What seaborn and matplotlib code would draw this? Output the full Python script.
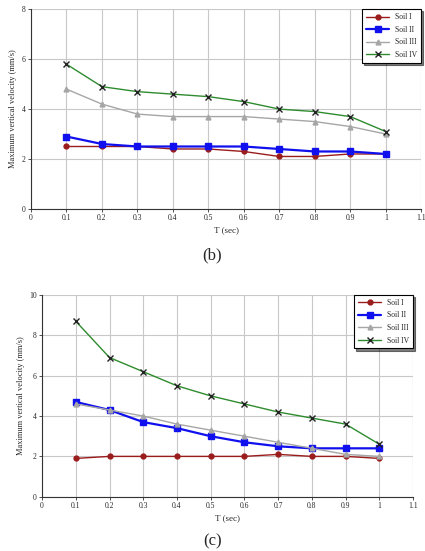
import matplotlib
matplotlib.use("Agg")
import matplotlib.pyplot as plt
import seaborn as sns
import pandas as pd

T = [0.1, 0.2, 0.3, 0.4, 0.5, 0.6, 0.7, 0.8, 0.9, 1.0]
series_names = ["Soil I", "Soil II", "Soil III", "Soil IV"]

b_soil1 = [2.5, 2.5, 2.5, 2.4, 2.4, 2.3, 2.1, 2.1, 2.2, 2.2]
b_soil2 = [2.9, 2.6, 2.5, 2.5, 2.5, 2.5, 2.4, 2.3, 2.3, 2.2]
b_soil3 = [4.8, 4.2, 3.8, 3.7, 3.7, 3.7, 3.6, 3.5, 3.3, 3.0]
b_soil4 = [5.8, 4.9, 4.7, 4.6, 4.5, 4.3, 4.0, 3.9, 3.7, 3.1]

c_soil1 = [1.9, 2.0, 2.0, 2.0, 2.0, 2.0, 2.1, 2.0, 2.0, 1.9]
c_soil2 = [4.7, 4.3, 3.7, 3.4, 3.0, 2.7, 2.5, 2.4, 2.4, 2.4]
c_soil3 = [4.6, 4.3, 4.0, 3.6, 3.3, 3.0, 2.7, 2.4, 2.1, 2.0]
c_soil4 = [8.7, 6.9, 6.2, 5.5, 5.0, 4.6, 4.2, 3.9, 3.6, 2.6]

x_ticks = [0, 0.1, 0.2, 0.3, 0.4, 0.5, 0.6, 0.7, 0.8, 0.9, 1, 1.1]
x_ticklabels = ["0", "0.1", "0.2", "0.3", "0.4", "0.5", "0.6", "0.7", "0.8", "0.9", "1", "1.1"]

colors = ["#9b1c1c", "#1010ee", "#a6a6a6", "#2e8b2e"]
markers = ["o", "s", "^", "x"]
msizes = [3.5, 4, 3.5, 4]
lws = [1.0, 1.6, 1.0, 1.0]

sns.set_theme(style="white")
plt.rcParams["font.family"] = ["Liberation Serif", "DejaVu Serif"]

fig = plt.figure(figsize=(4.25, 5.51), dpi=100)
ax_b = fig.add_axes([0.073, 0.621, 0.918, 0.362])
ax_c = fig.add_axes([0.099, 0.0985, 0.873, 0.366])


def draw(ax, data, ymax, label, label_y):
    df = pd.DataFrame({"T": T * 4,
                       "v": sum(data, []),
                       "soil": sum([[n] * len(T) for n in series_names], [])})
    for i, name in enumerate(series_names):
        sub = df[df["soil"] == name]
        sns.lineplot(data=sub, x="T", y="v", ax=ax, color=colors[i], marker=markers[i],
                     markersize=msizes[i], linewidth=lws[i], label=name,
                     markeredgecolor=("#222222" if markers[i] == "x" else colors[i]),
                     markeredgewidth=1.0)
    ax.set_xlim(0, 1.1)
    ax.set_ylim(0, ymax)
    ax.set_xticks(x_ticks)
    ax.set_xticklabels(x_ticklabels)
    ax.set_yticks(list(range(0, ymax + 1, 2)))
    ax.grid(True, color="#c8c8c8", linewidth=0.8)
    ax.tick_params(axis="both", labelsize=5.5, length=2, width=0.6, color="#333333",
                   direction="out", bottom=True, left=True, pad=2)
    for s in ["top", "right"]:
        ax.spines[s].set_visible(False)
    for s in ["left", "bottom"]:
        ax.spines[s].set_color("#333333")
        ax.spines[s].set_linewidth(0.8)
    ax.set_xlabel("T (sec)", fontsize=6.5, labelpad=3)
    ax.set_ylabel("Maximum vertical velocity (mm/s)", fontsize=6, labelpad=3)
    leg = ax.legend(loc="upper right", fontsize=5.5, frameon=True, fancybox=False,
                    shadow={"ox": 1.5, "oy": -1.5, "shade": 1.0}, borderpad=0.5,
                    handlelength=3.0, labelspacing=0.6, borderaxespad=0.0)
    leg.get_frame().set_edgecolor("black")
    leg.get_frame().set_linewidth(0.8)
    fig.text(0.5, label_y, label, ha="center", va="center", fontsize=12)


draw(ax_b, [b_soil1, b_soil2, b_soil3, b_soil4], 8, "(b)", 1 - 255 / 551)
draw(ax_c, [c_soil1, c_soil2, c_soil3, c_soil4], 10, "(c)", 1 - 541 / 551)

fig.savefig("out.png", dpi=100)
